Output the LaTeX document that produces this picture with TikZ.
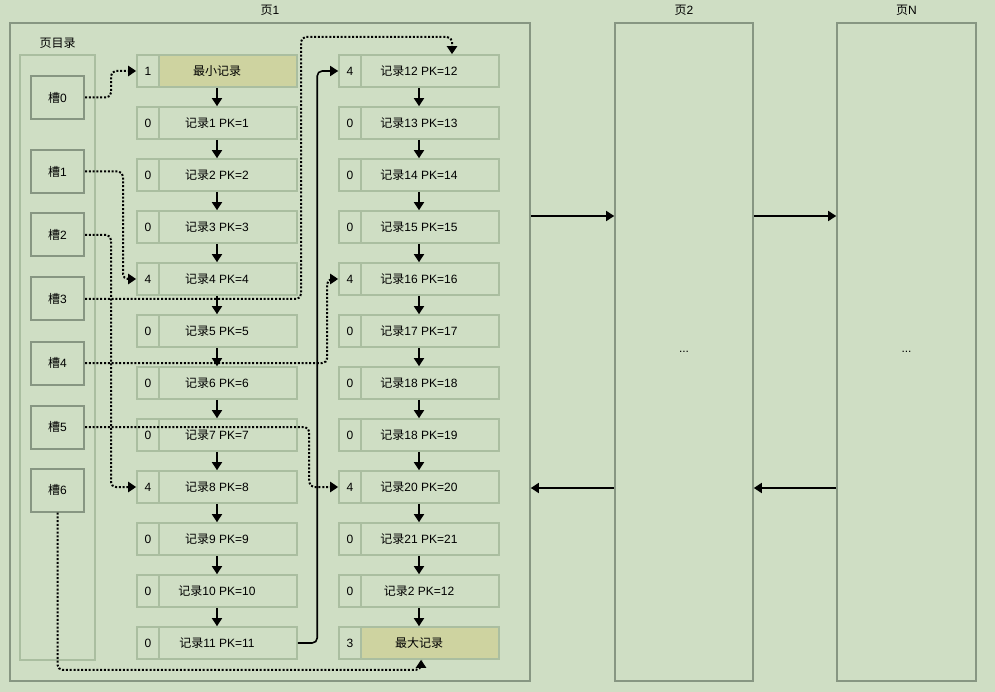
\documentclass[tikz,border=0pt]{standalone}
\usepackage{fontspec}
\setmainfont{Liberation Sans}
\newfontfamily\cjk{Noto Sans CJK SC}
\usetikzlibrary{arrows.meta, calc, positioning}
\definecolor{bgPage}{RGB}{207,222,196}
\definecolor{lineRec}{RGB}{170,190,160}
\definecolor{lineBox}{RGB}{135,150,130}
\definecolor{fillEnd}{RGB}{206,211,160}
\newcommand\jilu{{\cjk 记录}}

\begin{document}
\begin{tikzpicture}[
    x=1pt, y=-1pt,
    font=\fontsize{12}{14}\selectfont,
    rec/.style={draw=lineRec, line width=1.6pt, minimum width=160pt, minimum height=32pt, inner sep=0pt},
    idx/.style={draw=lineRec, fill=bgPage, line width=1.6pt, minimum width=22pt, minimum height=32pt, inner sep=0pt, anchor=west},
    slot/.style={draw=lineBox, line width=2pt, minimum width=53pt, minimum height=43pt, inner sep=0pt},
    page/.style={draw=lineBox, line width=1.6pt, inner sep=0pt, minimum height=658pt},
    pagelabel/.style={inner sep=0pt},
    flow/.style={line width=1.6pt, -{Triangle[length=8pt, width=10pt]}},
    slotlink/.style={line width=2pt, dash pattern=on 2pt off 1.8pt, rounded corners=5pt, -{Triangle[length=8pt, width=10pt]}},
  ]

  % ---- canvas -----------------------------------------------------------
  \fill[bgPage] (0,0) rectangle (995,692);
  \useasboundingbox (0,0) rectangle (995,692);

  % ---- pages ------------------------------------------------------------
  \node[page, minimum width=520pt] (page1) at (270,352) {};
  \node[page, minimum width=138pt] (page2) at (684,352) {...};
  \node[page, minimum width=139pt] (pageN) at (906.5,352) {...};
  \node[pagelabel, above=6pt of page1] {{\cjk 页}1};
  \node[pagelabel, above=6pt of page2] {{\cjk 页}2};
  \node[pagelabel, above=6pt of pageN] {{\cjk 页}N};

  \draw[flow] ([yshift=136pt]page1.east) -- ([yshift=136pt]page2.west);
  \draw[flow] ([yshift=136pt]page2.east) -- ([yshift=136pt]pageN.west);
  \draw[flow] ([yshift=-136pt]page2.west) -- ([yshift=-136pt]page1.east);
  \draw[flow] ([yshift=-136pt]pageN.west) -- ([yshift=-136pt]page2.east);

  % ---- page directory ---------------------------------------------------
  \node[draw=lineRec, line width=1.6pt, minimum width=75pt, minimum height=605pt] (dir) at (57.5,357.5) {};
  \node[pagelabel, above=5pt of dir] {\cjk 页目录};

  \node[slot] (s0) at (57.5,97.5) {{\cjk 槽}0};
  \node[slot] (s1) at (57.5,171.5) {{\cjk 槽}1};
  \node[slot] (s2) at (57.5,235) {{\cjk 槽}2};
  \node[slot] (s3) at (57.5,299) {{\cjk 槽}3};
  \node[slot] (s4) at (57.5,363) {{\cjk 槽}4};
  \node[slot] (s5) at (57.5,427) {{\cjk 槽}5};
  \node[slot] (s6) at (57.5,490) {{\cjk 槽}6};

  % ---- records, left column ---------------------------------------------
  \node[rec, fill=fillEnd] (L0) at (217,71) {\cjk 最小记录};
  \node[rec] (L1)  at (217,123) {\jilu1 PK=1};
  \node[rec] (L2)  at (217,175) {\jilu2 PK=2};
  \node[rec] (L3)  at (217,227) {\jilu3 PK=3};
  \node[rec] (L4)  at (217,279) {\jilu4 PK=4};
  \node[rec] (L5)  at (217,331) {\jilu5 PK=5};
  \node[rec] (L6)  at (217,383) {\jilu6 PK=6};
  \node[rec] (L7)  at (217,435) {\jilu7 PK=7};
  \node[rec] (L8)  at (217,487) {\jilu8 PK=8};
  \node[rec] (L9)  at (217,539) {\jilu9 PK=9};
  \node[rec] (L10) at (217,591) {\jilu10 PK=10};
  \node[rec] (L11) at (217,643) {\jilu11 PK=11};

  \node[idx] (L0i)  at (L0.west)  {1};
  \node[idx] (L1i)  at (L1.west)  {0};
  \node[idx] (L2i)  at (L2.west)  {0};
  \node[idx] (L3i)  at (L3.west)  {0};
  \node[idx] (L4i)  at (L4.west)  {4};
  \node[idx] (L5i)  at (L5.west)  {0};
  \node[idx] (L6i)  at (L6.west)  {0};
  \node[idx] (L7i)  at (L7.west)  {0};
  \node[idx] (L8i)  at (L8.west)  {4};
  \node[idx] (L9i)  at (L9.west)  {0};
  \node[idx] (L10i) at (L10.west) {0};
  \node[idx] (L11i) at (L11.west) {0};

  % ---- records, right column --------------------------------------------
  \node[rec] (R0)  at (419,71)  {\jilu12 PK=12};
  \node[rec] (R1)  at (419,123) {\jilu13 PK=13};
  \node[rec] (R2)  at (419,175) {\jilu14 PK=14};
  \node[rec] (R3)  at (419,227) {\jilu15 PK=15};
  \node[rec] (R4)  at (419,279) {\jilu16 PK=16};
  \node[rec] (R5)  at (419,331) {\jilu17 PK=17};
  \node[rec] (R6)  at (419,383) {\jilu18 PK=18};
  \node[rec] (R7)  at (419,435) {\jilu18 PK=19};
  \node[rec] (R8)  at (419,487) {\jilu20 PK=20};
  \node[rec] (R9)  at (419,539) {\jilu21 PK=21};
  \node[rec] (R10) at (419,591) {\jilu2 PK=12};
  \node[rec, fill=fillEnd] (R11) at (419,643) {\cjk 最大记录};

  \node[idx] (R0i)  at (R0.west)  {4};
  \node[idx] (R1i)  at (R1.west)  {0};
  \node[idx] (R2i)  at (R2.west)  {0};
  \node[idx] (R3i)  at (R3.west)  {0};
  \node[idx] (R4i)  at (R4.west)  {4};
  \node[idx] (R5i)  at (R5.west)  {0};
  \node[idx] (R6i)  at (R6.west)  {0};
  \node[idx] (R7i)  at (R7.west)  {0};
  \node[idx] (R8i)  at (R8.west)  {4};
  \node[idx] (R9i)  at (R9.west)  {0};
  \node[idx] (R10i) at (R10.west) {0};
  \node[idx] (R11i) at (R11.west) {3};

  % ---- next-record pointers ---------------------------------------------
  \draw[flow] (L0) -- (L1);   \draw[flow] (L1) -- (L2);   \draw[flow] (L2) -- (L3);
  \draw[flow] (L3) -- (L4);   \draw[flow] (L4) -- (L5);   \draw[flow] (L5) -- (L6);
  \draw[flow] (L6) -- (L7);   \draw[flow] (L7) -- (L8);   \draw[flow] (L8) -- (L9);
  \draw[flow] (L9) -- (L10);  \draw[flow] (L10) -- (L11);
  \draw[flow] (R0) -- (R1);   \draw[flow] (R1) -- (R2);   \draw[flow] (R2) -- (R3);
  \draw[flow] (R3) -- (R4);   \draw[flow] (R4) -- (R5);   \draw[flow] (R5) -- (R6);
  \draw[flow] (R6) -- (R7);   \draw[flow] (R7) -- (R8);   \draw[flow] (R8) -- (R9);
  \draw[flow] (R9) -- (R10);  \draw[flow] (R10) -- (R11);
  % record 11 continues in the right column
  \draw[flow, rounded corners=5pt] (L11.east) -| ($(R0.west)+(-21,0)$) -- (R0.west);

  % ---- slots point at the group owners ----------------------------------
  \draw[slotlink] (s0.east) -- ++(26,0) |- (L0.west);
  \draw[slotlink] (s1.east) -- ++(38,0) |- (L4.west);
  \draw[slotlink] (s2.east) -- ++(26,0) |- (L8.west);
  \draw[slotlink] (s3.east) -| (301,37) -| ([xshift=33pt]R0.north);
  \draw[slotlink] (s4.east) -| ($(R4.west)+(-11,0)$) -- (R4.west);
  \draw[slotlink] (s5.east) -| ($(R8.west)+(-29,0)$) -- (R8.west);
  \draw[slotlink] (s6.south) |- ($(R11.south)+(2,10)$) -- ([xshift=2pt]R11.south);

\end{tikzpicture}
\end{document}
